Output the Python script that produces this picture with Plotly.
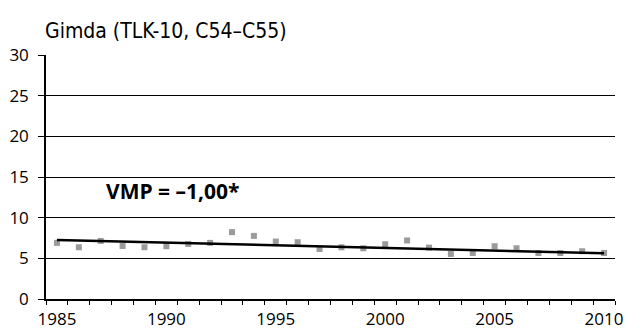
import plotly.graph_objects as go

years = list(range(1985, 2011))
values = [6.9, 6.36, 7.14, 6.52, 6.36, 6.49, 6.77, 6.9, 8.22, 7.76, 7.06, 6.98, 6.15,
          6.36, 6.24, 6.73, 7.2, 6.32, 5.54, 5.66, 6.49, 6.24, 5.66, 5.66, 5.87, 5.66]
trend_years = [1985, 2010]
trend_values = [7.25, 5.62]
x_tick_vals = [1985, 1990, 1995, 2000, 2005, 2010]
x_tick_text = ["1985", "1990", "1995", "2000", "2005", "2010"]
y_tick_vals = [0, 5, 10, 15, 20, 25, 30]
title_text = "Gimda (TLK-10, C54–C55)"
note_text = "VMP = –1,00*"

W, H = 625, 329

fig = go.Figure()
fig.add_trace(go.Scatter(x=years, y=values, mode="markers",
                         marker=dict(symbol="square", size=6, color="#9b9b9b"),
                         showlegend=False, hoverinfo="skip"))
fig.add_trace(go.Scatter(x=trend_years, y=trend_values, mode="lines",
                         line=dict(color="black", width=2.5),
                         showlegend=False, hoverinfo="skip"))

fig.update_layout(
    width=W, height=H,
    margin=dict(l=46, r=10, t=55, b=30, pad=0),
    paper_bgcolor="white", plot_bgcolor="white",
    font=dict(family="Open Sans", size=17, color="black"),
    title=dict(text=title_text, x=45 / W, xanchor="left", xref="container",
               y=1 - 31 / H, yanchor="middle", yref="container",
               font=dict(family="DejaVu Sans Condensed", size=21, color="black")),
    xaxis=dict(range=[1984.5, 2010.5], tickmode="array", tickvals=x_tick_vals,
               ticktext=x_tick_text, ticks="", showgrid=False, zeroline=False,
               showline=True, linecolor="black", linewidth=1.5, automargin=False,
               tickfont=dict(size=17), ticklabelstandoff=4, ticklabeloverflow="allow",
               minor=dict(tickmode="linear", tick0=1984.5, dtick=1, ticks="outside",
                          ticklen=4, tickcolor="black", tickwidth=1, showgrid=False)),
    yaxis=dict(range=[0, 30], tickmode="array", tickvals=y_tick_vals,
               ticks="outside", ticklen=6, tickcolor="black", tickwidth=1,
               showgrid=True, gridcolor="black", gridwidth=1, zeroline=False,
               showline=True, linecolor="black", linewidth=1.5, automargin=False,
               tickfont=dict(size=17), ticklabelstandoff=6),
    annotations=[dict(text="<b>" + note_text + "</b>", x=1987.15, y=13.3,
                      xref="x", yref="y", xanchor="left", yanchor="middle",
                      showarrow=False, font=dict(family="Open Sans", size=21, color="black"))],
)

fig.write_html(
    "out.html",
    config={"displayModeBar": False},
    post_script="document.body.style.margin='0';document.body.style.overflow='hidden';",
)
